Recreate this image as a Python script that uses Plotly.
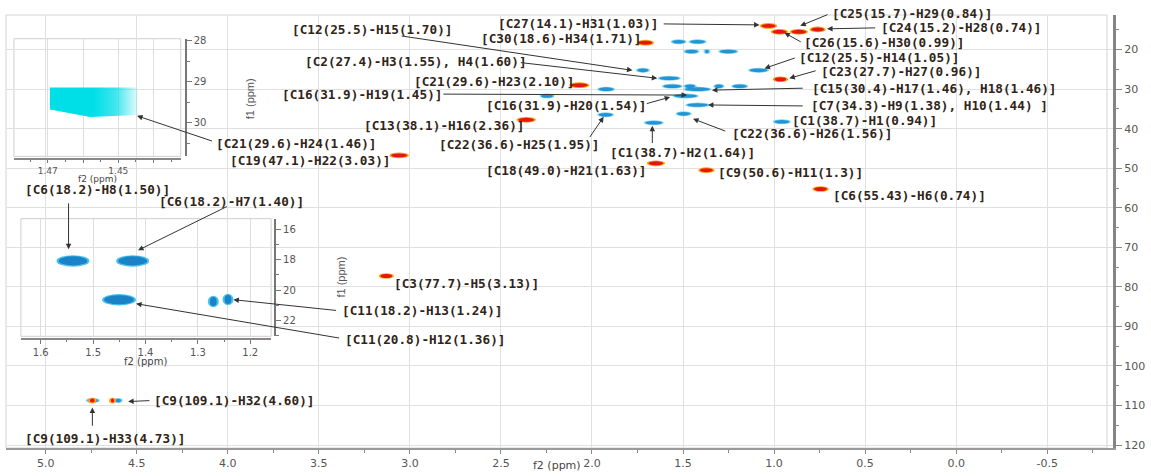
import plotly.graph_objects as go

# ------------------------------------------------------------------ data
# HSQC cross peaks: f2 (1H) start / end in ppm, f1 (13C) in ppm
# negative phase (blue) peaks, main spectrum
blue_h_start = [1.559, 1.461, 1.489, 1.379, 1.298, 1.750, 1.134, 1.630, 1.963, 2.279, 1.608,
                1.489, 1.489, 1.325, 1.227, 1.548, 1.478, 1.532, 1.963, 1.707, 0.998, 4.771, 4.618]
blue_h_end = [1.489, 1.379, 1.418, 1.358, 1.205, 1.690, 1.036, 1.521, 1.881, 2.214, 1.510,
              1.434, 1.352, 1.281, 1.150, 1.423, 1.363, 1.461, 1.887, 1.614, 0.916, 4.711, 4.586]
blue_c = [18.0, 18.0, 20.5, 20.5, 20.5, 25.25, 25.25, 27.25, 30.0, 31.75, 29.25,
          29.25, 30.0, 29.25, 29.25, 31.75, 34.0, 36.25, 36.5, 38.5, 38.25, 108.75, 108.75]

# positive phase (red) peaks, main spectrum
red_h_start = [1.069, 1.009, 0.905, 0.796, 0.998, 1.745, 2.116, 2.405, 3.103, 1.690, 1.407,
               0.780, 3.162, 4.757, 4.642]
red_h_end = [0.992, 0.932, 0.823, 0.725, 0.932, 1.668, 2.023, 2.317, 3.015, 1.608, 1.336,
             0.709, 3.097, 4.731, 4.624]
red_c = [14.0, 15.5, 15.5, 14.9, 27.5, 18.25, 29.0, 37.75, 46.75, 48.75, 50.5,
         55.25, 77.25, 108.75, 108.75]

# inset 1 (zoom on C21-H24)
ins1_h_start, ins1_h_end, ins1_h_mid = 1.4694, 1.4446, 1.458
ins1_c_top, ins1_c_bottom, ins1_c_bottom_left = 29.14, 29.86, 29.68

# inset 2 (zoom on C6 / C11 region)
ins2_h_start = [1.566, 1.452, 1.479, 1.277, 1.249]
ins2_h_end = [1.511, 1.397, 1.422, 1.264, 1.236]
ins2_c = [18.07, 18.07, 20.63, 20.75, 20.62]

# assignment labels
labels = [
    "[C27(14.1)-H31(1.03)]", "[C12(25.5)-H15(1.70)]", "[C30(18.6)-H34(1.71)]",
    "[C2(27.4)-H3(1.55), H4(1.60)]", "[C21(29.6)-H23(2.10)]", "[C16(31.9)-H19(1.45)]",
    "[C16(31.9)-H20(1.54)]", "[C13(38.1)-H16(2.36)]", "[C21(29.6)-H24(1.46)]",
    "[C19(47.1)-H22(3.03)]", "[C22(36.6)-H25(1.95)]", "[C1(38.7)-H2(1.64)]",
    "[C18(49.0)-H21(1.63)]", "[C25(15.7)-H29(0.84)]", "[C24(15.2)-H28(0.74)]",
    "[C26(15.6)-H30(0.99)]", "[C12(25.5)-H14(1.05)]", "[C23(27.7)-H27(0.96)]",
    "[C15(30.4)-H17(1.46), H18(1.46)]", "[C7(34.3)-H9(1.38), H10(1.44) ]",
    "[C1(38.7)-H1(0.94)]", "[C22(36.6)-H26(1.56)]", "[C9(50.6)-H11(1.3)]",
    "[C6(55.43)-H6(0.74)]", "[C3(77.7)-H5(3.13)]", "[C11(18.2)-H13(1.24)]",
    "[C11(20.8)-H12(1.36)]", "[C6(18.2)-H8(1.50)]", "[C6(18.2)-H7(1.40)]",
    "[C9(109.1)-H32(4.60)]", "[C9(109.1)-H33(4.73)]",
]

# tick labels
x_tick_vals = [5.0, 4.5, 4.0, 3.5, 3.0, 2.5, 2.0, 1.5, 1.0, 0.5, 0.0, -0.5]
x_tick_text = ["5.0", "4.5", "4.0", "3.5", "3.0", "2.5", "2.0", "1.5", "1.0", "0.5", "0.0", "-0.5"]
ins1_tick_vals = [1.47, 1.46, 1.45, 1.44]
ins1_tick_text = ["1.47", "", "1.45", ""]
ins2_tick_vals = [1.6, 1.5, 1.4, 1.3, 1.2]
ins2_tick_text = ["1.6", "1.5", "1.4", "1.3", "1.2"]

# ------------------------------------------------------------------ layout geometry
W, H = 1151, 476
ML, MR, MT, MB = 6, 30, 15, 23
PW, PH = W - ML - MR, H - MT - MB
X_LEFT, X_RIGHT = 5.2181, -0.8615
Y_TOP, Y_BOT = 11.25, 120.75


def dx(px):
    return X_LEFT + (px - ML) / PW * (X_RIGHT - X_LEFT)


def dy(py):
    return Y_TOP + (py - MT) / PH * (Y_BOT - Y_TOP)


def pxr(px):
    return (px - ML) / PW


def pyr(py):
    return (H - MB - py) / PH


# label placement (left edge px, centre y px)
label_left = [500, 292, 482, 305, 415, 282, 487, 365, 216, 230, 440, 612, 487,
              836, 885, 808, 803, 825, 816, 815, 796, 735, 721, 837, 395, 342, 345,
              23, 158, 153, 23]
label_mid = [24, 30, 39, 62, 82, 95, 107, 127, 145, 162, 146, 154, 172,
             13, 28, 43, 58, 72, 89, 107, 122, 135, 174, 198, 287, 314, 343,
             192, 204, 405, 443]

# arrows (tail px -> head px)
arrows = [
    ((667, 24), (765, 25)), ((403, 36), (637, 71)), ((523, 63), (662, 79)),
    ((445, 95), (692, 96)), ((650, 105), (675, 98)), ((215, 143), (138, 117)),
    ((593, 140), (608, 118)), ((657, 146), (657, 127)), ((835, 14), (806, 26)),
    ((883, 28), (833, 29)), ((808, 43), (790, 33)), ((802, 58), (770, 69)),
    ((823, 71), (795, 79)), ((810, 89), (717, 91)), ((810, 107), (713, 106)),
    ((732, 133), (698, 120)), ((340, 314), (235, 303)), ((343, 342), (137, 307)),
    ((69, 204), (69, 252)), ((230, 208), (139, 253)), ((152, 405), (129, 406)),
    ((93, 432), (93, 412)),
]

# ------------------------------------------------------------------ figure
fig = go.Figure()

# anchor traces so every subplot axis exists (peak centres, invisible)
fig.add_trace(go.Scatter(
    x=[(a + b) / 2 for a, b in zip(blue_h_start + red_h_start, blue_h_end + red_h_end)],
    y=blue_c + red_c, mode="markers", marker=dict(size=2, opacity=0),
    hoverinfo="skip", xaxis="x", yaxis="y"))
fig.add_trace(go.Scatter(
    x=[(a + b) / 2 for a, b in zip(ins2_h_start, ins2_h_end)], y=ins2_c,
    mode="markers", marker=dict(size=2, opacity=0), hoverinfo="skip",
    xaxis="x3", yaxis="y3"))

# inset 1 blob with horizontal fading (solid on the left, fading to the right)
fig.add_trace(go.Scatter(
    x=[ins1_h_start, ins1_h_end, ins1_h_end, ins1_h_mid, ins1_h_start, ins1_h_start],
    y=[ins1_c_top, ins1_c_top, ins1_c_bottom - 0.05, ins1_c_bottom, ins1_c_bottom_left, ins1_c_top],
    mode="lines", line=dict(width=0), fill="toself",
    fillgradient=dict(type="horizontal",
                      colorscale=[[0, "rgba(0,222,232,1)"], [0.5, "rgba(0,222,232,1)"],
                                  [0.75, "rgba(0,222,232,0.75)"], [1, "rgba(0,222,232,0.12)"]]),
    hoverinfo="skip", xaxis="x2", yaxis="y2"))

shapes = []
# frames
shapes.append(dict(type="rect", xref="paper", yref="paper", x0=0, x1=pxr(1115), y0=0, y1=1,
                   line=dict(color="#d4d4d4", width=1), layer="below"))
ins1_dom_x = [pxr(14), pxr(182)]
ins1_dom_y = [pyr(158), pyr(39)]
ins2_dom_x = [pxr(21), pxr(273)]
ins2_dom_y = [pyr(340), pyr(221)]
for dxs, dys in [(ins1_dom_x, ins1_dom_y), (ins2_dom_x, ins2_dom_y)]:
    shapes.append(dict(type="rect", xref="paper", yref="paper", x0=dxs[0], x1=dxs[1],
                       y0=dys[0], y1=dys[1], line=dict(color="#cfcfcf", width=1), layer="below"))


def blob(xr, yr, h0, h1, c, hh, color, ph=0.0, pc=0.0):
    return dict(type="circle", xref=xr, yref=yr, x0=h0 + ph, x1=h1 - ph,
                y0=c - hh - pc, y1=c + hh + pc, fillcolor=color,
                line=dict(width=0), layer="above")


for h0, h1, c in zip(blue_h_start, blue_h_end, blue_c):
    shapes.append(blob("x", "y", h0, h1, c, 0.45, "#86d6f4", 0.009, 0.18))
for h0, h1, c in zip(blue_h_start, blue_h_end, blue_c):
    shapes.append(blob("x", "y", h0, h1, c, 0.45, "#2394d3"))
for h0, h1, c in zip(red_h_start, red_h_end, red_c):
    shapes.append(blob("x", "y", h0, h1, c, 0.5, "#ffa31a", 0.010, 0.22))
for h0, h1, c in zip(red_h_start, red_h_end, red_c):
    shapes.append(blob("x", "y", h0, h1, c, 0.5, "#e3170a"))
for h0, h1, c in zip(ins2_h_start, ins2_h_end, ins2_c):
    shapes.append(blob("x3", "y3", h0, h1, c, 0.3, "#45c4ef", 0.004, 0.08))
for h0, h1, c in zip(ins2_h_start, ins2_h_end, ins2_c):
    shapes.append(blob("x3", "y3", h0, h1, c, 0.3, "#1c82c6"))

annotations = []
lab_font = dict(family="DejaVu Sans Mono", size=12.7, color="#302418")
for txt, lx, ly in zip(labels, label_left, label_mid):
    annotations.append(dict(text="<b>" + txt + "</b>", x=pxr(lx), y=pyr(ly),
                            xref="paper", yref="paper", xanchor="left", yanchor="middle",
                            showarrow=False, font=lab_font))
for (tx, ty), (hx, hy) in arrows:
    annotations.append(dict(text="", x=dx(hx), y=dy(hy), ax=dx(tx), ay=dy(ty),
                            xref="x", yref="y", axref="x", ayref="y", showarrow=True,
                            arrowhead=2, arrowsize=1.1, arrowwidth=1, arrowcolor="#333333",
                            standoff=0, startstandoff=0))

axis_font = dict(family="DejaVu Sans", size=11, color="#555555")
small_font = dict(family="DejaVu Sans", size=10, color="#555555")
tiny_font = dict(family="DejaVu Sans", size=9, color="#555555")
title_font = dict(family="DejaVu Sans", size=9, color="#444444")
f1_font = dict(family="Liberation Sans", size=11, color="#555555")

annotations += [
    dict(text="f2 (ppm)", x=pxr(561), y=pyr(471), xref="paper", yref="paper",
         showarrow=False, font=dict(family="DejaVu Sans", size=11, color="#444444"),
         xanchor="center", yanchor="middle"),
    dict(text="f2 (ppm)", x=pxr(98), y=pyr(181), xref="paper", yref="paper",
         showarrow=False, font=title_font, xanchor="center", yanchor="middle"),
    dict(text="f2 (ppm)", x=pxr(147), y=pyr(365), xref="paper", yref="paper",
         showarrow=False, font=dict(family="DejaVu Sans", size=10, color="#444444"),
         xanchor="center", yanchor="middle"),
    dict(text="f1 (ppm)", x=pxr(252), y=pyr(100), xref="paper", yref="paper", textangle=-90,
         showarrow=False, font=f1_font, xanchor="center", yanchor="middle"),
    dict(text="f1 (ppm)", x=pxr(343), y=pyr(280), xref="paper", yref="paper", textangle=-90,
         showarrow=False, font=f1_font, xanchor="center", yanchor="middle"),
]

fig.update_layout(
    width=W, height=H, margin=dict(l=ML, r=MR, t=MT, b=MB, pad=0),
    paper_bgcolor="white", plot_bgcolor="rgba(0,0,0,0)", showlegend=False,
    xaxis=dict(range=[X_LEFT, X_RIGHT], domain=[0, 1], tickmode="array",
               tickvals=x_tick_vals, ticktext=x_tick_text, ticks="outside", ticklen=4,
               tickcolor="#888888", showline=True, linecolor="#9a9a9a", linewidth=1.5,
               showgrid=True, gridcolor="#e0e0e0", gridwidth=1, zeroline=False,
               tickfont=axis_font,
               minor=dict(dtick=0.25, tick0=0, ticks="outside", ticklen=3,
                          tickcolor="#888888", showgrid=False)),
    yaxis=dict(range=[Y_BOT, Y_TOP], domain=[0, 1], side="right", tick0=0, dtick=10,
               ticks="outside", ticklen=6, tickcolor="#888888", showline=True,
               linecolor="#858585", linewidth=3, showgrid=True, gridcolor="#e0e0e0",
               zeroline=False, tickfont=axis_font,
               minor=dict(dtick=5, tick0=0, ticks="outside", ticklen=3,
                          tickcolor="#888888", showgrid=False)),
    xaxis2=dict(range=[1.4796, 1.4323], domain=ins1_dom_x, anchor="free", position=pyr(161),
                tickmode="array", tickvals=ins1_tick_vals, ticktext=ins1_tick_text,
                ticks="outside", ticklen=3, tickcolor="#777777", showline=True,
                linecolor="#888888", linewidth=1.5, showgrid=True, gridcolor="#dedede",
                zeroline=False, tickfont=tiny_font,
                minor=dict(tickvals=[1.475, 1.465, 1.455, 1.445, 1.435], ticks="outside",
                           ticklen=2, tickcolor="#777777", showgrid=False)),
    yaxis2=dict(range=[30.82, 27.952], domain=ins1_dom_y, anchor="free", position=pxr(187),
                side="right", tick0=0, dtick=1, ticks="outside", ticklen=5,
                tickcolor="#777777", showline=True, linecolor="#777777", linewidth=2,
                showgrid=False, zeroline=False, tickfont=small_font,
                minor=dict(dtick=0.5, tick0=0, ticks="outside", ticklen=3,
                           tickcolor="#777777", showgrid=False)),
    xaxis3=dict(range=[1.6379, 1.1602], domain=ins2_dom_x, anchor="free", position=pyr(343),
                tickmode="array", tickvals=ins2_tick_vals, ticktext=ins2_tick_text,
                ticks="outside", ticklen=4, tickcolor="#777777", showline=True,
                linecolor="#888888", linewidth=1.5, showgrid=True, gridcolor="#dedede",
                zeroline=False, tickfont=small_font,
                minor=dict(tickvals=[1.55, 1.45, 1.35, 1.25], ticks="outside",
                           ticklen=2, tickcolor="#777777", showgrid=False)),
    yaxis3=dict(range=[23.044, 15.283], domain=ins2_dom_y, anchor="free", position=pxr(277),
                side="right", tick0=0, dtick=2, ticks="outside", ticklen=5,
                tickcolor="#777777", showline=True, linecolor="#777777", linewidth=2,
                showgrid=False, zeroline=False, tickfont=small_font,
                minor=dict(dtick=1, tick0=0, ticks="outside", ticklen=3,
                           tickcolor="#777777", showgrid=False)),
    shapes=shapes, annotations=annotations,
)

fig.write_html("out.html")
